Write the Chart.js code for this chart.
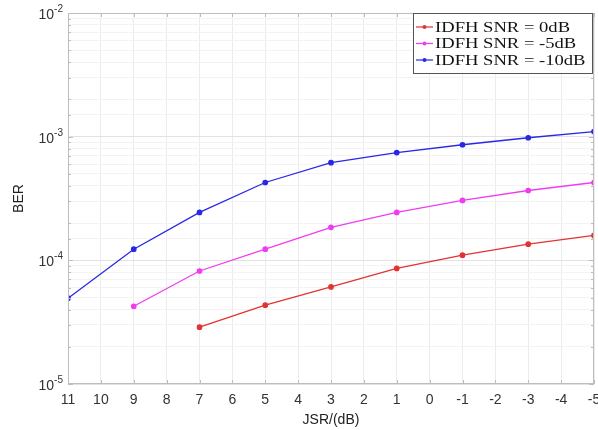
<!DOCTYPE html>
<html>
<head>
<meta charset="utf-8">
<script src="https://cdn.jsdelivr.net/npm/chart.js@4/dist/chart.umd.min.js"></script>
<style>
  html, body { margin: 0; padding: 0; background: #fff; }
  #wrap { width: 598px; height: 430px; }
</style>
</head>
<body>
<div id="wrap"><canvas id="chart1"></canvas></div>
<script>
'use strict';

// JSR values in dB (x axis runs from 11 down to -5)
var JSR_RED = [7, 5, 3, 1, -1, -3, -5];
var JSR_MAGENTA = [9, 7, 5, 3, 1, -1, -3, -5];
var JSR_BLUE = [11, 9, 7, 5, 3, 1, -1, -3, -5];

// BER
var BER_0DB = [2.88e-5, 4.34e-5, 6.1e-5, 8.6e-5, 1.1e-4, 1.35e-4, 1.59e-4];
var BER_M5DB = [4.25e-5, 8.2e-5, 1.23e-4, 1.85e-4, 2.44e-4, 3.05e-4, 3.67e-4, 4.26e-4];
var BER_M10DB = [4.94e-5, 1.23e-4, 2.44e-4, 4.26e-4, 6.16e-4, 7.43e-4, 8.6e-4, 9.8e-4, 1.1e-3];

var SERIES_NAMES = ['IDFH SNR = 0dB', 'IDFH SNR = -5dB', 'IDFH SNR = -10dB'];
var SERIES_COLORS = ['#e23333', '#f03cf0', '#2828e6'];

var Y_EXPONENTS = [-2, -3, -4, -5];

var toPoints = function (xs, ys) {
  return xs.map(function (x, i) { return { x: x, y: ys[i] }; });
};

var SANS = 'Helvetica, Arial, "Liberation Sans", sans-serif';
var SERIF = '"Times New Roman", "Liberation Serif", serif';

// frame, inward ticks, y labels with superscripts, boxed legend
var matlabLook = {
  id: 'matlabLook',
  afterDraw: function (chart) {
    var c = chart.ctx;
    var a = chart.chartArea;
    var xs = chart.scales.x;
    var ys = chart.scales.y;
    c.save();
    c.strokeStyle = '#bdbdbd';
    c.lineWidth = 1;
    c.strokeRect(a.left + 0.5, a.top + 0.5, a.right - a.left - 1, a.bottom - a.top - 1);

    // inward ticks
    c.beginPath();
    for (var v = -5; v <= 11; v++) {
      var px = Math.round(xs.getPixelForValue(v)) + 0.5;
      c.moveTo(px, a.bottom); c.lineTo(px, a.bottom - 4);
      c.moveTo(px, a.top); c.lineTo(px, a.top + 4);
    }
    ys.ticks.forEach(function (t) {
      var py = Math.round(ys.getPixelForValue(t.value)) + 0.5;
      var len = t.major ? 5 : 3;
      c.moveTo(a.left, py); c.lineTo(a.left + len, py);
      c.moveTo(a.right, py); c.lineTo(a.right - len, py);
    });
    c.stroke();

    // y labels 10^n
    c.fillStyle = '#333';
    c.textBaseline = 'alphabetic';
    Y_EXPONENTS.forEach(function (e) {
      var py = ys.getPixelForValue(Math.pow(10, e));
      var sup = String(e);
      c.font = '10px ' + SANS;
      var supW = c.measureText(sup).width;
      c.font = '14px ' + SANS;
      var baseW = c.measureText('10').width;
      var right = a.left - 5;
      c.textAlign = 'left';
      c.fillText('10', right - supW - baseW, py + 6);
      c.font = '10px ' + SANS;
      c.fillText(sup, right - supW, py - 1);
    });

    // legend
    var lx = 413, ly = 13, lw = 179, lh = 60;
    c.fillStyle = '#fff';
    c.fillRect(lx, ly, lw, lh);
    c.strokeStyle = '#555';
    c.strokeRect(lx + 0.5, ly + 0.5, lw, lh);
    c.textAlign = 'left';
    c.textBaseline = 'middle';
    SERIES_NAMES.forEach(function (name, i) {
      var yy = ly + 14 + i * 16.5;
      c.strokeStyle = SERIES_COLORS[i];
      c.lineWidth = 1.2;
      c.beginPath();
      c.moveTo(lx + 3, yy); c.lineTo(lx + 20, yy);
      c.stroke();
      c.fillStyle = SERIES_COLORS[i];
      c.beginPath();
      c.arc(lx + 11.5, yy, 2, 0, Math.PI * 2);
      c.fill();
      // the source text is stretched sideways
      c.save();
      c.translate(lx + 22, yy + 1);
      c.scale(1.24, 1);
      c.font = '15px ' + SERIF;
      c.fillStyle = '#111';
      c.fillText(name, 0, 0);
      c.restore();
    });
    c.restore();
  }
};

var makeSet = function (i, xs, ys) {
  return {
    label: SERIES_NAMES[i],
    data: toPoints(xs, ys),
    borderColor: SERIES_COLORS[i],
    backgroundColor: SERIES_COLORS[i],
    borderWidth: 1.3,
    pointRadius: 2.2,
    pointHoverRadius: 2.2,
    tension: 0,
  };
};

var ctx = document.getElementById('chart1').getContext('2d');
/* eslint-disable-next-line no-unused-vars */
var myChart1 = new Chart(ctx, {
  type: 'line',
  plugins: [matlabLook],
  data: {
    datasets: [
      makeSet(0, JSR_RED, BER_0DB),
      makeSet(1, JSR_MAGENTA, BER_M5DB),
      makeSet(2, JSR_BLUE, BER_M10DB),
    ],
  },
  options: {
    responsive: true,
    maintainAspectRatio: false,
    animation: false,
    layout: {
      padding: { top: 13, right: 0, left: 11, bottom: 0 },
    },
    plugins: {
      legend: { display: false },
      tooltip: { enabled: false },
    },
    scales: {
      x: {
        type: 'linear',
        reverse: true,
        min: -5,
        max: 11,
        afterFit: function (scale) {
          scale.height = 46;
          scale.paddingLeft = 0;
          scale.paddingRight = 4;
        },
        ticks: {
          stepSize: 1,
          color: '#333',
          padding: 8,
          font: { size: 14, family: SANS },
        },
        grid: {
          color: '#ececec',
          drawTicks: false,
        },
        border: { display: false },
        title: {
          display: true,
          text: 'JSR/(dB)',
          color: '#222',
          padding: { top: 0, bottom: 1 },
          font: { size: 14, family: SANS },
        },
      },
      y: {
        type: 'logarithmic',
        min: 1e-5,
        max: 1e-2,
        afterFit: function (scale) { scale.width = 57; },
        ticks: {
          autoSkip: false,
          callback: function () { return ''; },
        },
        grid: {
          color: function (c) {
            return c.tick && c.tick.major ? '#e2e2e2' : '#f3f3f3';
          },
          drawTicks: false,
        },
        border: { display: false },
        title: {
          display: true,
          text: 'BER',
          color: '#222',
          padding: { top: 0, bottom: 0 },
          font: { size: 14, family: SANS },
        },
      },
    },
  },
});
</script>
</body>
</html>
